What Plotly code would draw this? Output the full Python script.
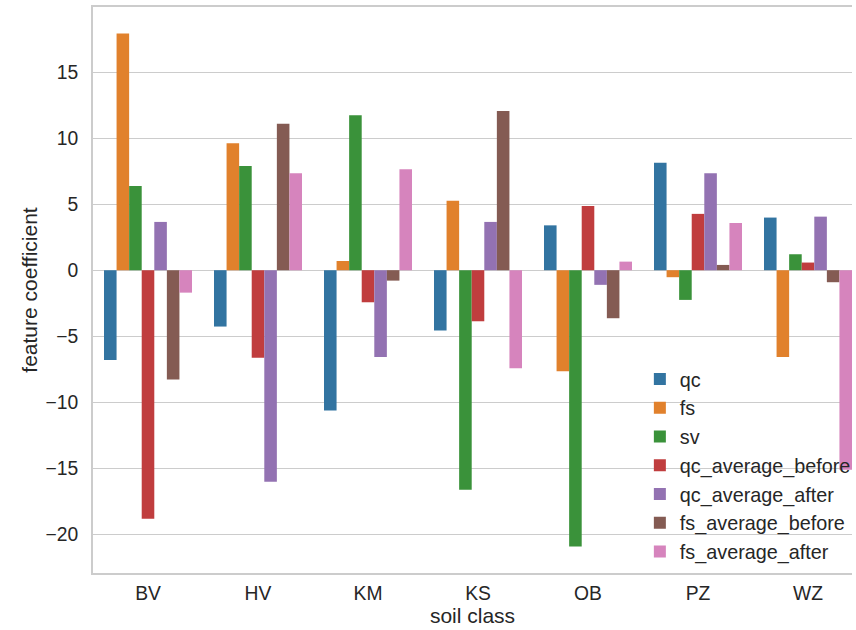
import plotly.graph_objects as go

categories = ["BV", "HV", "KM", "KS", "OB", "PZ", "WZ"]
features = ["qc", "fs", "sv", "qc_average_before", "qc_average_after",
            "fs_average_before", "fs_average_after"]
qc = [-6.8, -4.27, -10.63, -4.57, 3.4, 8.15, 3.99]
fs = [17.95, 9.62, 0.7, 5.27, -7.65, -0.53, -6.57]
sv = [6.39, 7.9, 11.74, -16.64, -20.94, -2.25, 1.21]
qc_average_before = [-18.84, -6.64, -2.43, -3.87, 4.87, 4.27, 0.58]
qc_average_after = [3.66, -16.04, -6.57, 3.66, -1.11, 7.35, 4.06]
fs_average_before = [-8.28, 11.1, -0.79, 12.07, -3.64, 0.4, -0.91]
fs_average_after = [-1.7, 7.35, 7.65, -7.43, 0.65, 3.58, -15.13]
series = [qc, fs, sv, qc_average_before, qc_average_after,
          fs_average_before, fs_average_after]
colors = ["#3274a1", "#e1812c", "#3a923a", "#c03d3e", "#9372b2", "#845b53", "#d684bd"]
y_ticks = [-20, -15, -10, -5, 0, 5, 10, 15]

FONT = "Liberation Sans, Arial, sans-serif"
TXT = "#262626"
TICK_SIZE = 19.3
LEGEND_SIZE = 19.8
LABEL_SIZE = 21

fig = go.Figure()
for name, vals, col in zip(features, series, colors):
    fig.add_trace(go.Bar(x=categories, y=vals, name=name,
                         marker=dict(color=col, line=dict(width=0))))

fig.update_layout(
    width=856, height=630,
    margin=dict(l=93, r=0, t=7, b=57, pad=0),
    paper_bgcolor="white", plot_bgcolor="white",
    barmode="group", bargap=0.2, bargroupgap=0,
    font=dict(family=FONT, size=TICK_SIZE, color=TXT),
    showlegend=True,
    legend=dict(x=0.7205, y=0.377, xanchor="left", yanchor="top",
                bgcolor="rgba(0,0,0,0)", borderwidth=0,
                tracegroupgap=0, font=dict(size=LEGEND_SIZE, color=TXT)),
)
fig.update_xaxes(
    type="category", range=[-0.5, 6.40],
    showgrid=False, zeroline=False,
    showline=True, linecolor="#cccccc", linewidth=1.7, mirror=True,
    ticks="", ticklabelstandoff=2,
    tickfont=dict(size=TICK_SIZE, color=TXT),
    title=dict(text="soil class", font=dict(size=LABEL_SIZE, color=TXT), standoff=1),
)
fig.update_yaxes(
    range=[-22.95, 19.95], tickvals=y_ticks,
    ticktext=[("\u2212" + str(-v)) if v < 0 else str(v) for v in y_ticks],
    showgrid=True, gridcolor="#cccccc", gridwidth=1.4,
    zeroline=False,
    showline=True, linecolor="#cccccc", linewidth=1.7, mirror=False,
    ticks="", ticklabelstandoff=9,
    tickfont=dict(size=TICK_SIZE, color=TXT),
    title=dict(text="feature coefficient", font=dict(size=LABEL_SIZE, color=TXT), standoff=2),
)
fig.write_html("out.html")
